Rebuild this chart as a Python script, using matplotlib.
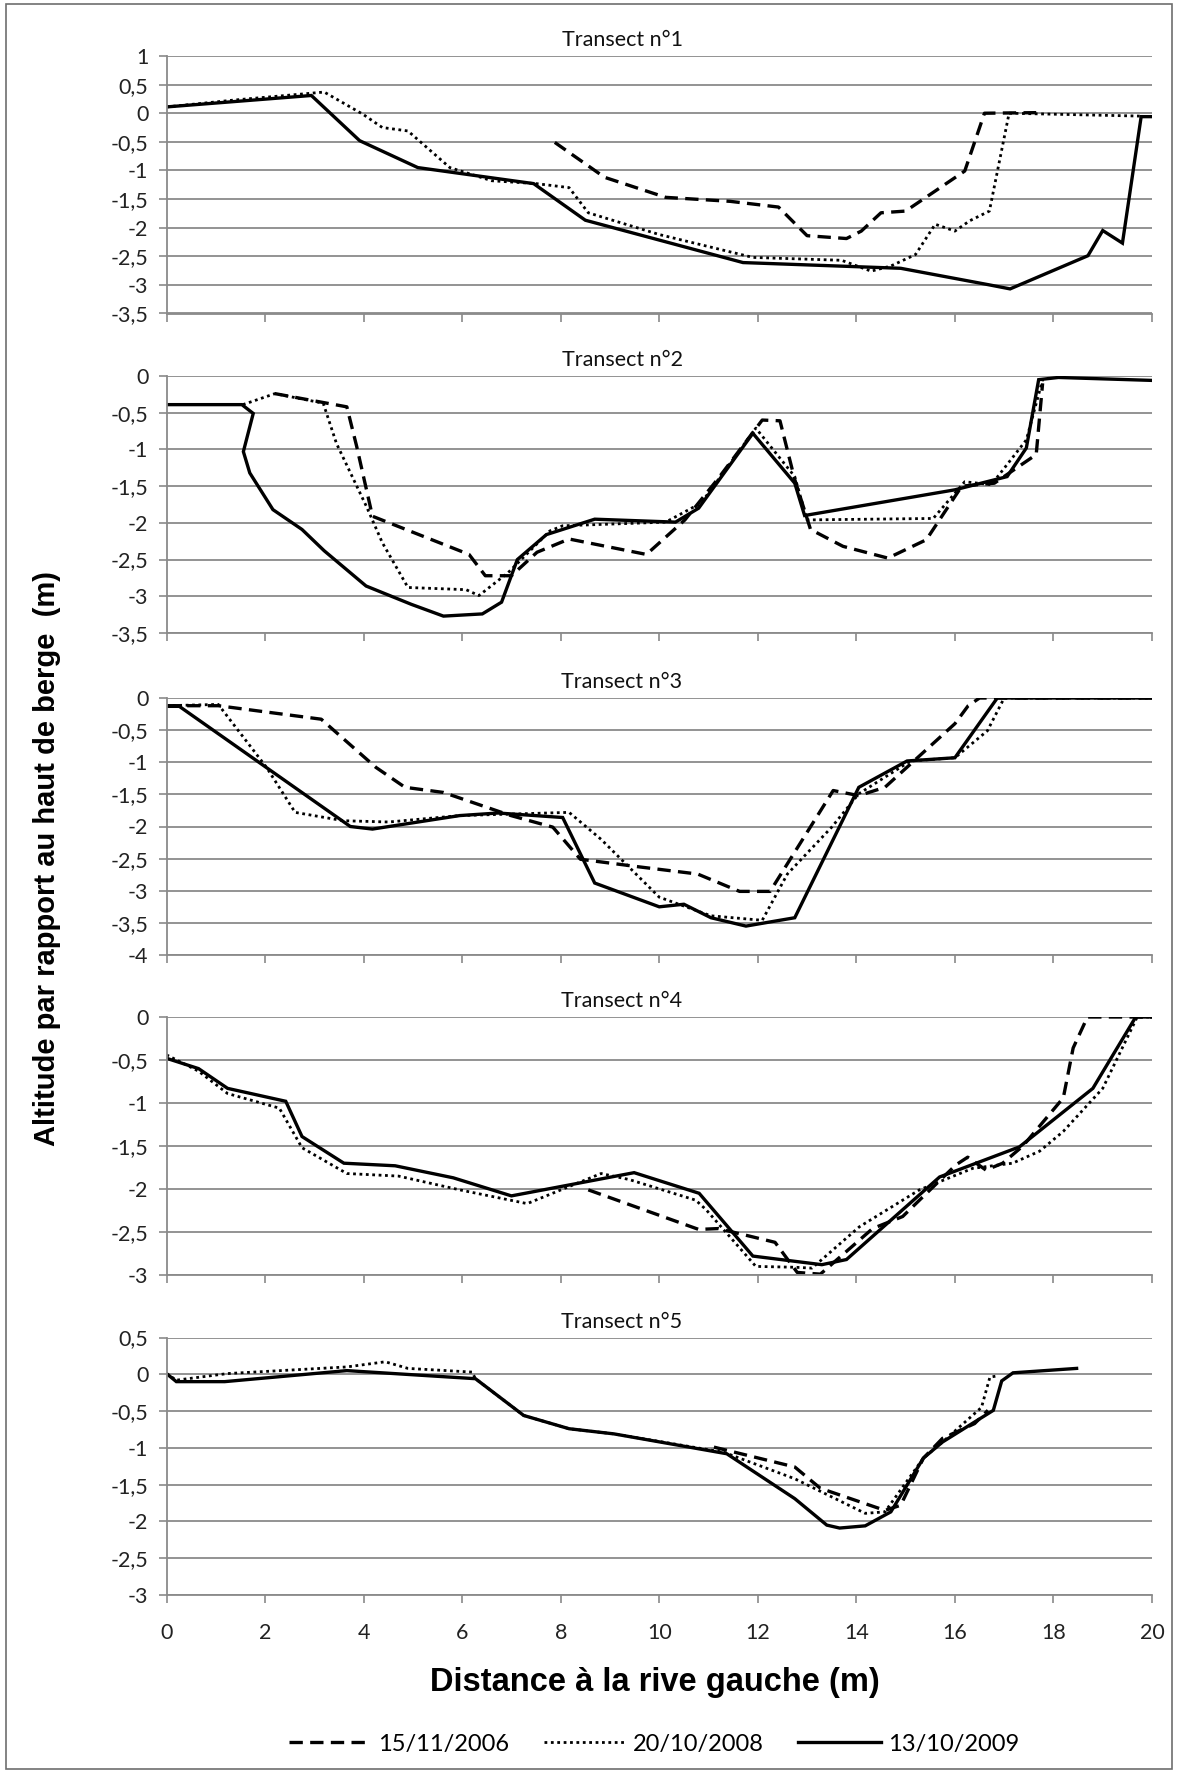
import matplotlib
matplotlib.use("Agg")
import matplotlib.pyplot as plt
from matplotlib.lines import Line2D
from matplotlib.ticker import FuncFormatter, MultipleLocator
import matplotlib.patches as patches

# ---- data (distance m, altitude m) ----
dates = ['15/11/2006', '20/10/2008', '13/10/2009']
titles = ['Transect n°1', 'Transect n°2', 'Transect n°3', 'Transect n°4', 'Transect n°5']
ylims = [(-3.5, 1), (-3.5, 0), (-4, 0), (-3, 0), (-3, 0.5)]

t1_2006_x = [7.88, 8.89, 10.13, 11.44, 12.42, 13.0, 13.8, 14.1, 14.5, 15.0, 16.2, 16.6, 17.65]
t1_2006_y = [-0.51, -1.12, -1.47, -1.54, -1.64, -2.14, -2.19, -2.06, -1.74, -1.71, -1.01, 0.0, 0.01]
t1_2008_x = [0, 1.37, 3.2, 3.99, 4.38, 4.9, 5.75, 6.6, 7.5, 8.17, 8.56, 10.0, 11.9, 13.7, 14.3, 14.7,
             15.2, 15.6, 16.0, 16.3, 16.7, 17.1, 19.75]
t1_2008_y = [0.11, 0.23, 0.37, -0.02, -0.25, -0.31, -0.95, -1.18, -1.23, -1.3, -1.74, -2.12, -2.52, -2.57,
             -2.76, -2.67, -2.47, -1.94, -2.06, -1.88, -1.71, 0.0, -0.05]
t1_2009_x = [0, 2.94, 3.92, 5.1, 7.45, 8.5, 11.7, 14.9, 16.7, 17.12, 18.7, 19.0, 19.4, 19.78, 20]
t1_2009_y = [0.11, 0.31, -0.48, -0.95, -1.23, -1.87, -2.61, -2.71, -3.0, -3.07, -2.49, -2.05, -2.27, -0.06, -0.06]

t2_2006_x = [2.2, 3.66, 3.86, 4.18, 6.14, 6.47, 7.0, 7.52, 8.17, 9.74, 10.52, 11.18, 12.09, 12.45, 12.75,
             13.07, 13.73, 14.64, 15.42, 16.14, 16.8, 17.65, 17.78]
t2_2006_y = [-0.24, -0.42, -0.96, -1.91, -2.43, -2.72, -2.72, -2.4, -2.22, -2.43, -1.96, -1.41, -0.6, -0.61,
             -1.41, -2.09, -2.32, -2.48, -2.23, -1.5, -1.46, -1.07, -0.1]
t2_2008_x = [1.55, 2.2, 3.18, 3.45, 4.06, 4.38, 4.9, 6.08, 6.34, 6.93, 7.78, 8.04, 10.13, 10.85, 11.96,
             12.75, 13.0, 15.56, 16.2, 16.74, 17.45, 17.78, 17.9]
t2_2008_y = [-0.39, -0.24, -0.37, -0.92, -1.78, -2.27, -2.88, -2.91, -2.99, -2.68, -2.11, -2.04, -1.99,
             -1.73, -0.71, -1.37, -1.96, -1.94, -1.44, -1.48, -0.87, -0.05, -0.03]
t2_2009_x = [0, 1.53, 1.76, 1.56, 1.69, 2.16, 2.75, 3.2, 4.05, 4.97, 5.62, 6.41, 6.8, 7.12, 7.71, 8.69,
             10.33, 10.8, 11.9, 12.75, 12.95, 16.0, 17.06, 17.45, 17.7, 18.1, 20]
t2_2009_y = [-0.39, -0.39, -0.51, -1.03, -1.32, -1.82, -2.09, -2.38, -2.86, -3.11, -3.27, -3.24, -3.08,
             -2.5, -2.16, -1.95, -1.99, -1.8, -0.78, -1.46, -1.9, -1.55, -1.37, -0.98, -0.05, -0.02, -0.06]

t3_2006_x = [0, 1.05, 3.14, 4.25, 4.84, 5.62, 6.99, 7.84, 8.4, 9.61, 10.78, 11.63, 12.25, 13.53, 14.05,
             14.58, 16.0, 16.27, 16.5, 20]
t3_2006_y = [-0.12, -0.12, -0.33, -1.08, -1.39, -1.47, -1.83, -2.01, -2.51, -2.63, -2.74, -3.01, -3.01,
             -1.44, -1.52, -1.39, -0.4, -0.12, 0, 0]
t3_2008_x = [0, 1.05, 2.03, 2.61, 3.59, 4.51, 5.95, 8.17, 8.82, 10.0, 11.05, 12.09, 12.6, 13.5, 14.05,
             15.1, 16.0, 16.66, 17.0, 20]
t3_2008_y = [-0.12, -0.1, -1.08, -1.78, -1.91, -1.93, -1.83, -1.78, -2.2, -3.1, -3.39, -3.46, -2.74,
             -2.01, -1.49, -0.98, -0.93, -0.51, 0, 0]
t3_2009_x = [0, 0.26, 3.73, 4.18, 5.95, 6.73, 8.04, 8.69, 10.0, 10.5, 11.05, 11.76, 12.75, 14.05, 15.03,
             16.0, 16.86, 20]
t3_2009_y = [-0.13, -0.13, -2.0, -2.04, -1.83, -1.79, -1.86, -2.88, -3.25, -3.21, -3.42, -3.55, -3.42,
             -1.39, -0.98, -0.93, 0, 0]

t4_2006_x = [8.56, 10.8, 11.2, 12.35, 12.8, 13.27, 14.33, 14.94, 15.28, 16.02, 16.26, 16.63, 16.97,
             17.38, 18.2, 18.4, 18.69, 20]
t4_2006_y = [-2.01, -2.47, -2.46, -2.62, -2.97, -2.99, -2.46, -2.32, -2.13, -1.72, -1.63, -1.78, -1.7,
             -1.5, -0.94, -0.36, 0, 0]
t4_2008_x = [0, 0.65, 1.24, 2.29, 2.75, 3.66, 4.71, 5.95, 7.32, 8.82, 9.39, 10.74, 10.95, 11.96, 12.75,
             13.1, 14.06, 15.28, 16.36, 17.17, 17.72, 18.2, 19.0, 19.7, 20]
t4_2008_y = [-0.44, -0.63, -0.89, -1.06, -1.52, -1.82, -1.85, -2.01, -2.17, -1.82, -1.89, -2.13, -2.24,
             -2.9, -2.91, -2.92, -2.44, -2.01, -1.76, -1.7, -1.56, -1.33, -0.83, 0, 0]
t4_2009_x = [0, 0.65, 1.24, 2.42, 2.75, 3.6, 4.64, 5.82, 7.0, 9.49, 10.81, 11.9, 13.3, 13.8, 15.69,
             17.31, 18.8, 19.67, 20]
t4_2009_y = [-0.48, -0.6, -0.83, -0.98, -1.39, -1.7, -1.73, -1.87, -2.08, -1.81, -2.05, -2.78, -2.88,
             -2.82, -1.86, -1.51, -0.83, 0, 0]

t5_2006_x = [11.11, 12.75, 13.27, 14.58, 14.9, 15.36, 15.75, 16.4, 16.67]
t5_2006_y = [-0.99, -1.26, -1.55, -1.85, -1.78, -1.14, -0.87, -0.67, -0.49]
t5_2008_x = [0, 0.2, 1.24, 3.66, 4.44, 4.9, 6.2, 6.27, 7.25, 8.17, 9.08, 11.31, 12.75, 14.18, 14.58,
             15.36, 15.75, 16.54, 16.71, 16.87]
t5_2008_y = [0.01, -0.08, 0.01, 0.1, 0.17, 0.08, 0.03, -0.06, -0.56, -0.74, -0.81, -1.06, -1.42, -1.89,
             -1.87, -1.14, -0.92, -0.45, -0.04, -0.02]
t5_2009_x = [0, 0.2, 1.18, 3.66, 6.27, 7.25, 8.17, 9.08, 11.37, 12.75, 13.4, 13.66, 14.18, 14.7, 15.36,
             15.75, 16.78, 16.95, 17.18, 18.47]
t5_2009_y = [0.01, -0.1, -0.1, 0.05, -0.06, -0.56, -0.74, -0.81, -1.08, -1.69, -2.05, -2.09, -2.06,
             -1.87, -1.14, -0.92, -0.49, -0.09, 0.02, 0.08]

series = [
    [(t1_2006_x, t1_2006_y), (t1_2008_x, t1_2008_y), (t1_2009_x, t1_2009_y)],
    [(t2_2006_x, t2_2006_y), (t2_2008_x, t2_2008_y), (t2_2009_x, t2_2009_y)],
    [(t3_2006_x, t3_2006_y), (t3_2008_x, t3_2008_y), (t3_2009_x, t3_2009_y)],
    [(t4_2006_x, t4_2006_y), (t4_2008_x, t4_2008_y), (t4_2009_x, t4_2009_y)],
    [(t5_2006_x, t5_2006_y), (t5_2008_x, t5_2008_y), (t5_2009_x, t5_2009_y)],
]

# ---- style ----
W, H = 1178, 1773
grey = '#8a8a8a'
styles = [dict(ls=(0, (4, 2.2)), lw=2.4), dict(ls=(0, (1, 1.3)), lw=2.0), dict(ls='-', lw=2.4)]
text_font = 'Lato'
label_font = 'Liberation Sans'

panels_px = [(56, 313.5), (376, 633), (698, 955), (1017, 1275), (1337.5, 1595)]
x0_px, x1_px = 166.5, 1152


def comma(v, pos):
    if abs(v) < 1e-9:
        return '0'
    return ('%g' % v).replace('.', ',')


fig = plt.figure(figsize=(W / 100, H / 100), dpi=100)

for i, (top, bot) in enumerate(panels_px):
    ax = fig.add_axes([x0_px / W, 1 - bot / H, (x1_px - x0_px) / W, (bot - top) / H])
    for (xs, ys), st in zip(series[i], styles):
        ax.plot(xs, ys, color='black', solid_joinstyle='miter', **st)
    ax.set_xlim(0, 20)
    ax.set_ylim(*ylims[i])
    ax.yaxis.set_major_locator(MultipleLocator(0.5))
    ax.xaxis.set_major_locator(MultipleLocator(2))
    ax.yaxis.set_major_formatter(FuncFormatter(comma))
    ax.yaxis.grid(True, color=grey, lw=1.3)
    ax.set_axisbelow(True)
    for s in ['top', 'right']:
        ax.spines[s].set_visible(False)
    for s in ['left', 'bottom']:
        ax.spines[s].set_color(grey)
        ax.spines[s].set_linewidth(1.3)
    ax.tick_params(axis='y', direction='out', length=6, width=1.2, color=grey, pad=7,
                   labelsize=15.5, labelcolor='#222222')
    ax.tick_params(axis='x', direction='out', length=6, width=1.2, color=grey, pad=14,
                   labelsize=15.5, labelcolor='#222222')
    for lab in ax.get_yticklabels() + ax.get_xticklabels():
        lab.set_fontfamily(text_font)
    if i < 4:
        ax.tick_params(axis='x', labelbottom=False)
    # titles sit centred on the whole chart block, slightly left of the plot centre
    fig.text(622 / W, 1 - (top - 16) / H, titles[i], ha='center', va='center',
             fontsize=15.5, fontfamily=text_font, color='#111111')

fig.text(655 / W, 1 - 1682 / H, 'Distance à la rive gauche (m)', ha='center', va='center',
         fontsize=23.5, fontweight='bold', fontfamily=label_font)
fig.text(47 / W, 1 - 858 / H, 'Altitude par rapport au haut de berge  (m)', ha='center', va='center',
         rotation=90, fontsize=21, fontweight='bold', fontfamily=label_font)

handles = [Line2D([], [], color='black', **st) for st in styles]
fig.legend(handles, dates, loc='center', bbox_to_anchor=(654 / W, 1 - 1744 / H), ncol=3,
           frameon=False, handlelength=3.5, columnspacing=1.45, handletextpad=0.3,
           prop={'family': text_font, 'size': 17})

fig.patches.append(patches.Rectangle((6 / W, 4 / H), 1 - 12 / W, 1 - 8 / H, transform=fig.transFigure,
                                     fill=False, edgecolor='#6e6e6e', lw=1.2))

fig.savefig('out.png', dpi=100)
